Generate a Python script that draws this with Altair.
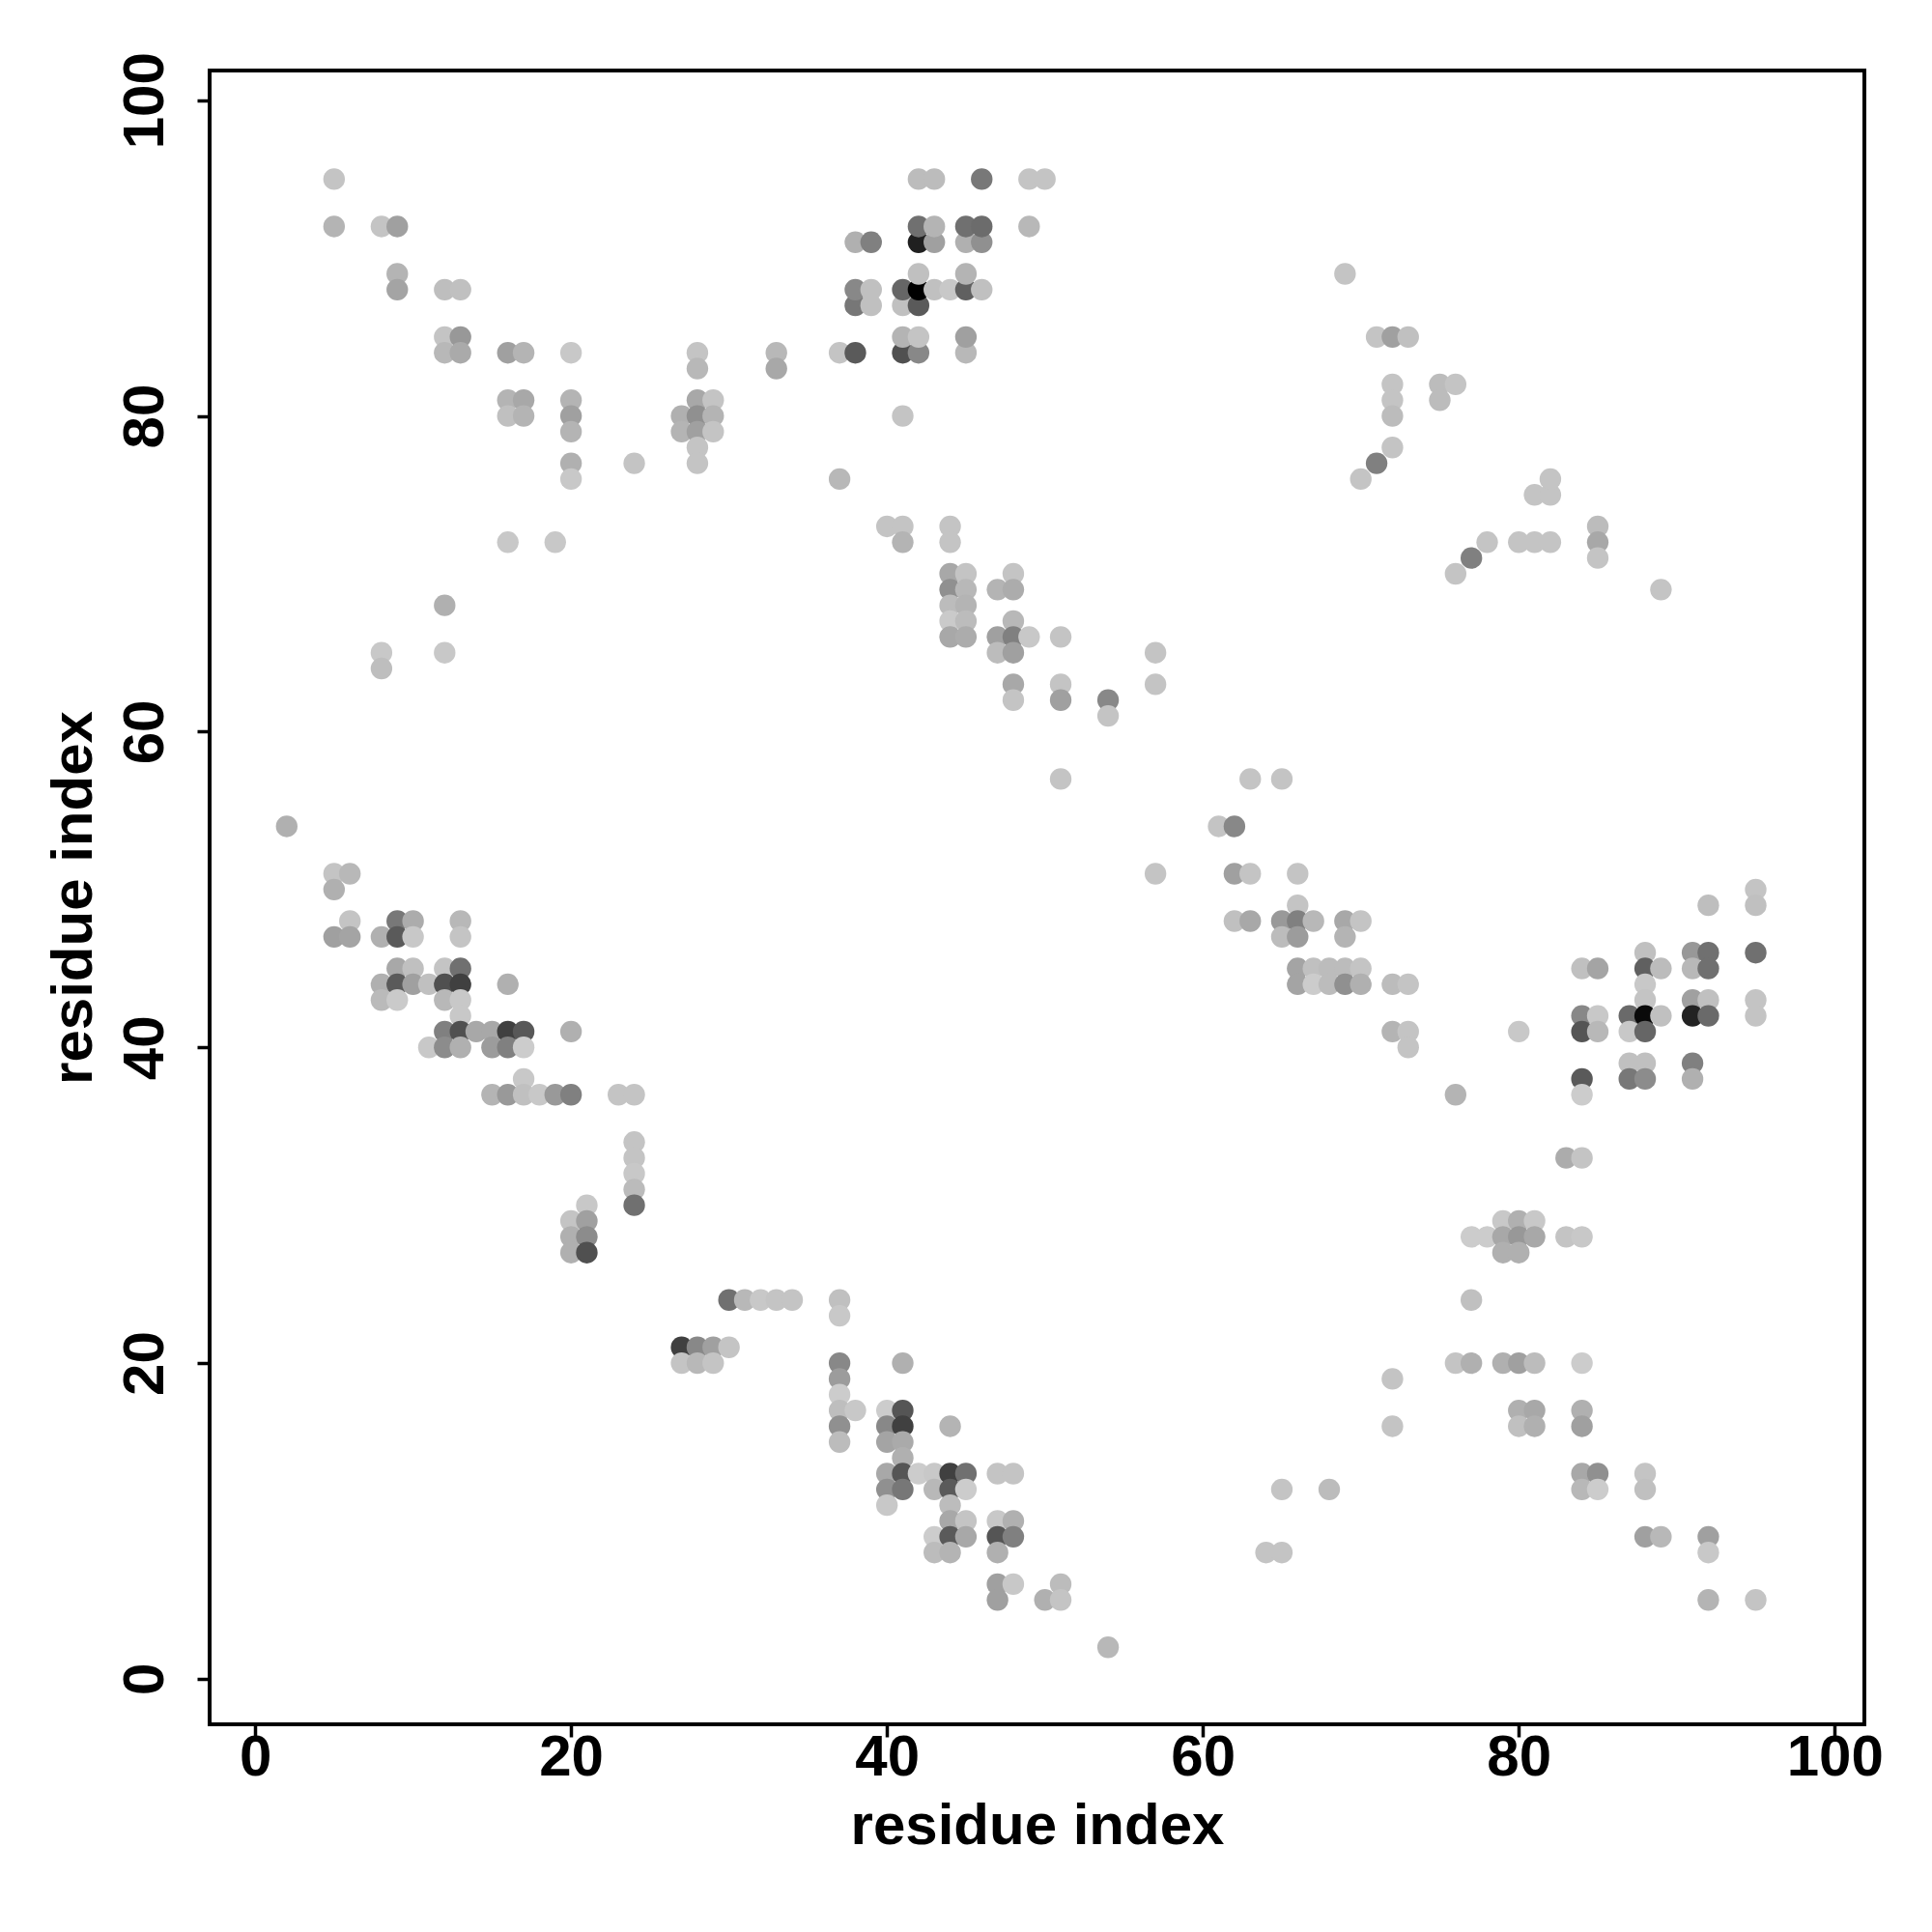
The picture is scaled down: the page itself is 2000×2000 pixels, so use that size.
import altair as alt
import pandas as pd

# Each entry: [x residue index, y residue index, grey shade 0-255]
top_left = [
    [5, 95, 196],
    [5, 92, 180], [8, 92, 196], [9, 92, 160],
    [9, 89, 180],
    [9, 88, 164], [12, 88, 190], [13, 88, 192],
    [12, 85, 196], [13, 85, 152],
    [12, 84, 184], [13, 84, 170], [16, 84, 160], [17, 84, 180], [20, 84, 200],
    [16, 81, 180], [17, 81, 168], [20, 81, 180],
    [16, 80, 192], [17, 80, 180], [20, 80, 160],
    [20, 79, 180], [20, 77, 176], [20, 76, 200], [24, 77, 196],
    [28, 84, 196], [28, 83, 184],
    [28, 81, 168], [29, 81, 196],
    [27, 80, 176], [28, 80, 144], [29, 80, 180],
    [27, 79, 180], [28, 79, 160], [29, 79, 196],
    [28, 78, 196], [28, 77, 196],
    [33, 84, 184], [33, 83, 168],
]

top_mid = [
    [37, 84, 196], [38, 84, 90], [41, 84, 80], [42, 84, 136], [45, 84, 184],
    [41, 85, 180], [42, 85, 196], [45, 85, 160],
    [38, 87, 119], [39, 87, 192], [41, 87, 192], [42, 87, 90],
    [38, 88, 136], [39, 88, 192], [41, 88, 102], [42, 88, 0], [43, 88, 192],
    [44, 88, 200], [45, 88, 96], [46, 88, 192],
    [42, 89, 192], [45, 89, 180],
    [38, 91, 176], [39, 91, 128], [42, 91, 32], [43, 91, 160], [45, 91, 176], [46, 91, 144],
    [42, 92, 112], [43, 92, 180], [45, 92, 112], [46, 92, 108], [49, 92, 184],
    [42, 95, 188], [43, 95, 188], [46, 95, 120], [49, 95, 196], [50, 95, 196],
    [41, 80, 196], [37, 76, 184],
]

mid_left = [
    [16, 72, 200], [19, 72, 200], [12, 68, 176],
    [8, 65, 200], [12, 65, 200], [8, 64, 190],
    [2, 54, 176],
    [5, 51, 196], [6, 51, 184], [5, 50, 176],
    [6, 48, 196], [9, 48, 120], [10, 48, 172], [13, 48, 184],
    [5, 47, 160], [6, 47, 164], [8, 47, 176], [9, 47, 90], [10, 47, 200], [13, 47, 196],
    [9, 45, 168], [10, 45, 192], [12, 45, 196], [13, 45, 112],
    [8, 44, 176], [9, 44, 90], [10, 44, 160], [11, 44, 192], [12, 44, 80], [13, 44, 64], [16, 44, 176],
    [8, 43, 186], [9, 43, 202], [12, 43, 184], [13, 43, 200],
    [13, 42, 200],
    [12, 41, 128], [13, 41, 80], [14, 41, 168], [15, 41, 168], [16, 41, 64], [17, 41, 88], [20, 41, 176],
    [11, 40, 200], [12, 40, 140], [13, 40, 176], [15, 40, 156], [16, 40, 128], [17, 40, 204],
    [17, 38, 200],
    [15, 37, 180], [16, 37, 153], [17, 37, 192], [18, 37, 200], [19, 37, 153], [20, 37, 128],
    [23, 37, 196], [24, 37, 196],
    [24, 34, 196], [24, 33, 196], [24, 32, 200], [24, 31, 187], [24, 30, 112],
    [21, 30, 200], [20, 29, 196], [21, 29, 160],
    [20, 28, 176], [21, 28, 140], [20, 27, 176], [21, 27, 80],
]

bottom_mid = [
    [30, 24, 112], [31, 24, 184], [32, 24, 200], [33, 24, 196], [34, 24, 196],
    [37, 24, 192], [37, 23, 200],
    [27, 21, 64], [28, 21, 136], [29, 21, 160], [30, 21, 196],
    [27, 20, 196], [28, 20, 184], [29, 20, 196],
    [37, 20, 136], [41, 20, 176], [37, 19, 156], [37, 18, 204],
    [37, 17, 190], [38, 17, 200], [40, 17, 204], [41, 17, 85],
    [37, 16, 144], [40, 16, 136], [41, 16, 64], [44, 16, 180],
    [37, 15, 188], [40, 15, 164], [41, 15, 170],
    [41, 14, 176],
    [40, 13, 168], [41, 13, 85], [42, 13, 204], [43, 13, 200], [44, 13, 64], [45, 13, 112],
    [47, 13, 196], [48, 13, 196],
    [40, 12, 144], [41, 12, 119], [43, 12, 184], [44, 12, 90], [45, 12, 204],
    [40, 11, 200], [44, 11, 188],
    [44, 10, 168], [45, 10, 196], [47, 10, 200], [48, 10, 176],
    [43, 9, 204], [44, 9, 90], [45, 9, 168], [47, 9, 85], [48, 9, 128],
    [43, 8, 188], [44, 8, 180], [47, 8, 176],
    [47, 6, 160], [48, 6, 200], [51, 6, 188],
    [47, 5, 160], [50, 5, 176], [51, 5, 196],
    [54, 2, 184],
]

middle = [
    [40, 73, 196], [41, 73, 196], [44, 73, 196],
    [41, 72, 180], [44, 72, 196],
    [44, 70, 168], [45, 70, 196], [48, 70, 196],
    [44, 69, 144], [45, 69, 184], [47, 69, 180], [48, 69, 172],
    [44, 68, 188], [45, 68, 180],
    [44, 67, 202], [45, 67, 188], [48, 67, 184],
    [44, 66, 168], [45, 66, 172], [47, 66, 160], [48, 66, 128], [49, 66, 200],
    [47, 65, 188], [48, 65, 160], [48, 63, 168], [48, 62, 196],
    [51, 66, 196], [51, 63, 196], [51, 62, 160], [51, 57, 196],
    [54, 62, 136], [54, 61, 196],
    [57, 65, 196], [57, 63, 196], [57, 51, 196],
    [63, 57, 196], [65, 57, 196],
    [61, 54, 196], [62, 54, 136],
    [62, 51, 160], [63, 51, 196], [66, 51, 196], [66, 49, 196],
    [62, 48, 192], [63, 48, 168], [65, 48, 153], [66, 48, 128], [67, 48, 184], [69, 48, 168], [70, 48, 196],
    [65, 47, 188], [66, 47, 156], [69, 47, 180],
    [66, 45, 164], [67, 45, 192], [68, 45, 188], [69, 45, 188], [70, 45, 196],
    [66, 44, 164], [67, 44, 204], [68, 44, 188], [69, 44, 144], [70, 44, 176], [72, 44, 188], [73, 44, 196],
    [72, 41, 180], [73, 41, 196], [73, 40, 196],
    [76, 37, 180],
]

top_right = [
    [69, 89, 196],
    [71, 85, 196], [72, 85, 160], [73, 85, 192],
    [72, 82, 196], [75, 82, 188], [76, 82, 196],
    [72, 81, 196], [75, 81, 188],
    [72, 80, 188], [72, 78, 196], [71, 77, 128], [70, 76, 196],
    [76, 70, 196], [77, 71, 128],
    [78, 72, 196], [80, 72, 196], [81, 72, 196], [82, 72, 196],
    [81, 75, 196], [82, 75, 196], [82, 76, 196],
    [85, 73, 188], [85, 72, 168], [85, 71, 196],
    [89, 69, 196],
]

right = [
    [95, 50, 196],
    [92, 49, 190], [95, 49, 192],
    [88, 46, 192], [91, 46, 152], [92, 46, 112], [95, 46, 112],
    [84, 45, 192], [85, 45, 164], [88, 45, 96], [89, 45, 188], [91, 45, 184], [92, 45, 112],
    [88, 44, 200],
    [88, 43, 196], [91, 43, 160], [92, 43, 192], [95, 43, 196],
    [84, 42, 136], [85, 42, 200], [87, 42, 106], [88, 42, 10], [89, 42, 192], [91, 42, 34],
    [92, 42, 106], [95, 42, 196],
    [80, 41, 200], [84, 41, 85], [85, 41, 184], [87, 41, 200], [88, 41, 102],
    [87, 39, 192], [88, 39, 192], [91, 39, 128],
    [84, 38, 90], [87, 38, 120], [88, 38, 140], [91, 38, 176],
    [84, 37, 204],
    [83, 33, 172], [84, 33, 196],
    [79, 29, 200], [80, 29, 176], [81, 29, 200],
    [77, 28, 204], [78, 28, 204], [79, 28, 168], [80, 28, 152], [81, 28, 168], [83, 28, 196], [84, 28, 200],
    [79, 27, 176], [80, 27, 176],
    [77, 24, 192],
    [76, 20, 196], [77, 20, 176], [79, 20, 176], [80, 20, 160], [81, 20, 188], [84, 20, 204],
    [80, 17, 176], [81, 17, 168], [84, 17, 176],
    [80, 16, 192], [81, 16, 176], [84, 16, 160],
    [84, 13, 168], [85, 13, 144], [88, 13, 196],
    [84, 12, 184], [85, 12, 204], [88, 12, 192],
    [88, 9, 160], [89, 9, 184], [92, 9, 160],
    [92, 8, 200],
    [92, 5, 180], [95, 5, 196],
]

bottom_right_mid = [
    [72, 19, 196], [72, 16, 196],
    [65, 12, 196], [68, 12, 188],
    [64, 8, 196], [65, 8, 196],
]

tick_values = [0, 20, 40, 60, 80, 100]
axis_title = "residue index"

rows = top_left + top_mid + mid_left + bottom_mid + middle + top_right + right + bottom_right_mid
df = pd.DataFrame(rows, columns=["xi", "yi", "shade"])
df["col"] = df["shade"].apply(lambda g: "#{0:02x}{0:02x}{0:02x}".format(int(g)))

FONT = "Liberation Sans"
FS = 60
dom = [-2.88, 101.88]
W, H = 1713, 1712

common = dict(
    values=tick_values, grid=False, domain=False,
    tickSize=13, tickWidth=3.5, tickColor="black",
    labelFont=FONT, labelFontWeight="bold", labelFontSize=FS, labelColor="black",
    labelFlush=False, labelOverlap=False,
    titleFont=FONT, titleFontWeight="bold", titleFontSize=FS, titleColor="black",
)

chart = alt.Chart(df).mark_circle(size=500, opacity=1).encode(
    x=alt.X("xi:Q", scale=alt.Scale(domain=dom, nice=False, zero=False),
            axis=alt.Axis(title=axis_title, labelPadding=-8, labelBaseline="top", labelAlign="center",
                          titleBaseline="alphabetic", titleAlign="center",
                          titleX=W / 2, titleY=123, **common)),
    y=alt.Y("yi:Q", scale=alt.Scale(domain=dom, nice=False, zero=False),
            axis=alt.Axis(title=axis_title, labelAngle=270, labelPadding=36, labelBaseline="alphabetic",
                          labelAlign="center",
                          titleAngle=270, titleBaseline="alphabetic", titleAlign="center",
                          titleX=-123, titleY=H / 2, **common)),
    color=alt.Color("col:N", scale=None),
).properties(
    width=W, height=H,
    autosize=alt.AutoSizeParams(type="none"),
    padding={"left": 209, "top": 65, "right": 60, "bottom": 200},
    background="white",
).configure_view(stroke="black", strokeWidth=4)

chart.save("out.html", embed_options={"renderer": "svg", "actions": False})
